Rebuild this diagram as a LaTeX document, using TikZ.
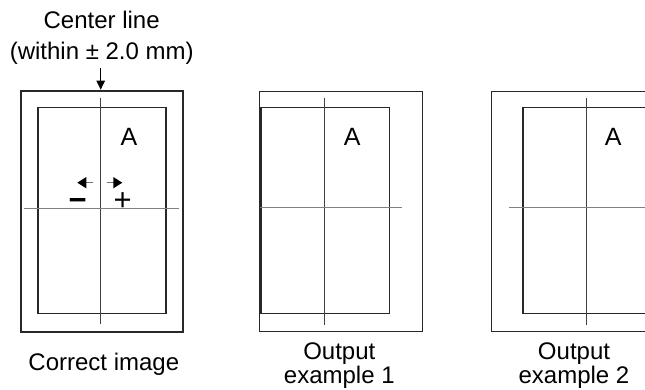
\documentclass[tikz,border=0pt]{standalone}
\usepackage{fontspec}
\setmainfont{Liberation Sans}
\usetikzlibrary{arrows.meta,positioning}

\begin{document}
\begin{tikzpicture}[
    x=1pt, y=-1pt,
    font=\fontsize{24}{24}\selectfont,
    >={Triangle[length=9pt,width=8.5pt]},
    sheet/.style={
        draw=framegray,
        line width=#1,
        minimum width=163pt,
        minimum height=240pt,
        inner sep=0pt
    },
    sheet/.default=1.3pt,
    image/.style={
        draw=framegray,
        line width=1.6pt,
        minimum width=128.3pt,
        minimum height=205.6pt,
        inner sep=0pt
    },
    vline/.style={draw=black!75, line width=0.9pt},
    hline/.style={draw=black!50, line width=1pt},
    caption/.style={align=center, font=\fontsize{24}{24}\selectfont},
    title/.style={align=center, font=\fontsize{24}{31}\selectfont},
    letter/.style={inner sep=0pt, font=\fontsize{25}{25}\selectfont},
    pointer/.style={->, line width=1pt},
    offsetarrow/.style={-{Triangle[length=9pt,width=11pt,color=black]}, line width=1.4pt, draw=black!55},
    sign/.style={font=\fontsize{31}{31}\selectfont, inner sep=0pt}
]

\definecolor{framegray}{RGB}{40,40,40}

\useasboundingbox (0,0) rectangle (645,390);
\clip (0,0) rectangle (645,390);

% A. Correct image
\node[sheet=2pt, minimum width=162.6pt, minimum height=241pt] (sheetcorrect) at (102,211.2) {};
\node[image] (imagecorrect) at (101.85,210.5) {};
\draw[vline] (100.7,98.3) -- (100.7,324);
\draw[hline] (24.3,208.3) -- (179,208.3);
\node[letter] (lettercorrect) at (129,137) {A};
\node[title] (title) at (101.7,37.5) {Center line\\(within ± 2.0 mm)};
\coordinate (titlefoot) at (100.7,68);
\draw[pointer] (titlefoot) -- (titlefoot |- sheetcorrect.north);
\coordinate (minusfrom) at (93,182.7);
\coordinate (minusto) at (77.3,182.7);
\coordinate (plusfrom) at (106.5,182.7);
\coordinate (plusto) at (122.3,182.7);
\draw[offsetarrow] (minusfrom) -- (minusto);
\draw[offsetarrow] (plusfrom) -- (plusto);
\node[sign, font=\fontsize{31}{31}\selectfont\bfseries] (minus) at (77.8,204) {−};
\node[sign] (plus) at (122.7,202) {+};
\node[caption] (captioncorrect) at (103.8,364.5) {Correct image};

% B. Output example 1
\node[sheet] (sheetone) at (340.8,211.7) {};
\node[image] (imageone) at (325.15,210.5) {};
\draw[vline] (324.3,98.3) -- (324.3,325);
\draw[hline] (260,207.7) -- (402.3,207.7);
\node[letter] (letterone) at (352.3,137) {A};
\node[caption] (captionone) at (339.3,366) {Output\\example 1};

% C. Output example 2
\node[sheet] (sheettwo) at (573.2,211.7) {};
\node[image] (imagetwo) at (586.85,210.5) {};
\draw[vline] (586,98.3) -- (586,325);
\draw[hline] (509.3,207.7) -- (660,207.7);
\node[letter] (lettertwo) at (613.3,137) {A};
\node[caption] (captiontwo) at (574,366) {Output\\example 2};

\end{tikzpicture}
\end{document}
